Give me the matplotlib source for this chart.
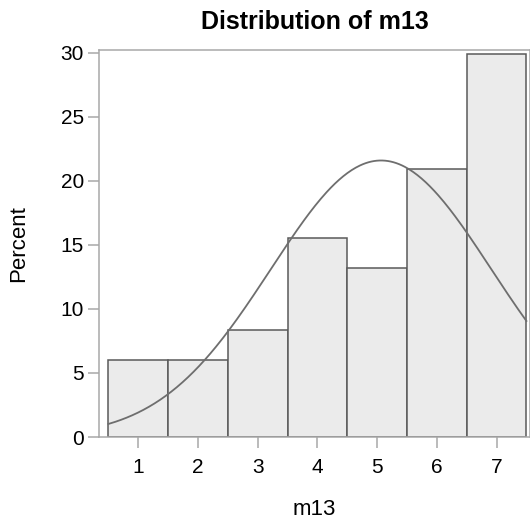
import matplotlib
matplotlib.use("Agg")
import matplotlib.pyplot as plt
import numpy as np

plt.rcParams['font.family'] = ['Liberation Sans', 'DejaVu Sans']

# histogram data (percent per response level)
levels = [1, 2, 3, 4, 5, 6, 7]
percents = [5.99, 5.99, 8.38, 15.57, 13.17, 20.96, 29.94]
ytick_vals = [0, 5, 10, 15, 20, 25, 30]

# normal fit from the histogram itself
lv = np.array(levels, dtype=float)
pc = np.array(percents)
w = pc / pc.sum()
mu = np.sum(w * lv)
sigma = np.sqrt(np.sum(w * (lv - mu) ** 2) * 167 / 166)

fig = plt.figure(figsize=(5.3, 5.25), dpi=100)
ax = fig.add_axes([0.187, 0.1676, 0.813, 0.7372])

ax.bar(levels, percents, width=1.0, color='#ebebeb', edgecolor='#5a5a5a',
       linewidth=1.1, zorder=2)

xs = np.linspace(levels[0] - 0.5, levels[-1] + 0.5, 300)
dens = 100.0 / (sigma * np.sqrt(2 * np.pi)) * np.exp(-0.5 * ((xs - mu) / sigma) ** 2)
ax.plot(xs, dens, color='#6e6e6e', linewidth=1.3, zorder=3)

ax.set_xlim(0.345, 7.56)
ax.set_ylim(0, 30.23)
ax.set_xticks(levels)
ax.set_yticks(ytick_vals)

for s in ax.spines.values():
    s.set_color('#a8a8a8')
    s.set_linewidth(1.1)

ax.tick_params(axis='both', colors='#a8a8a8', labelcolor='black',
               length=7.8, width=1.1, labelsize=15)
ax.tick_params(axis='x', pad=7.5)
ax.tick_params(axis='y', pad=3)

ax.set_xlabel('m13', fontsize=16, labelpad=16)
ax.set_ylabel('Percent', fontsize=16, labelpad=23)
ax.set_title('Distribution of m13', fontsize=18, fontweight='bold', pad=15)

fig.savefig('out.png', dpi=100)
